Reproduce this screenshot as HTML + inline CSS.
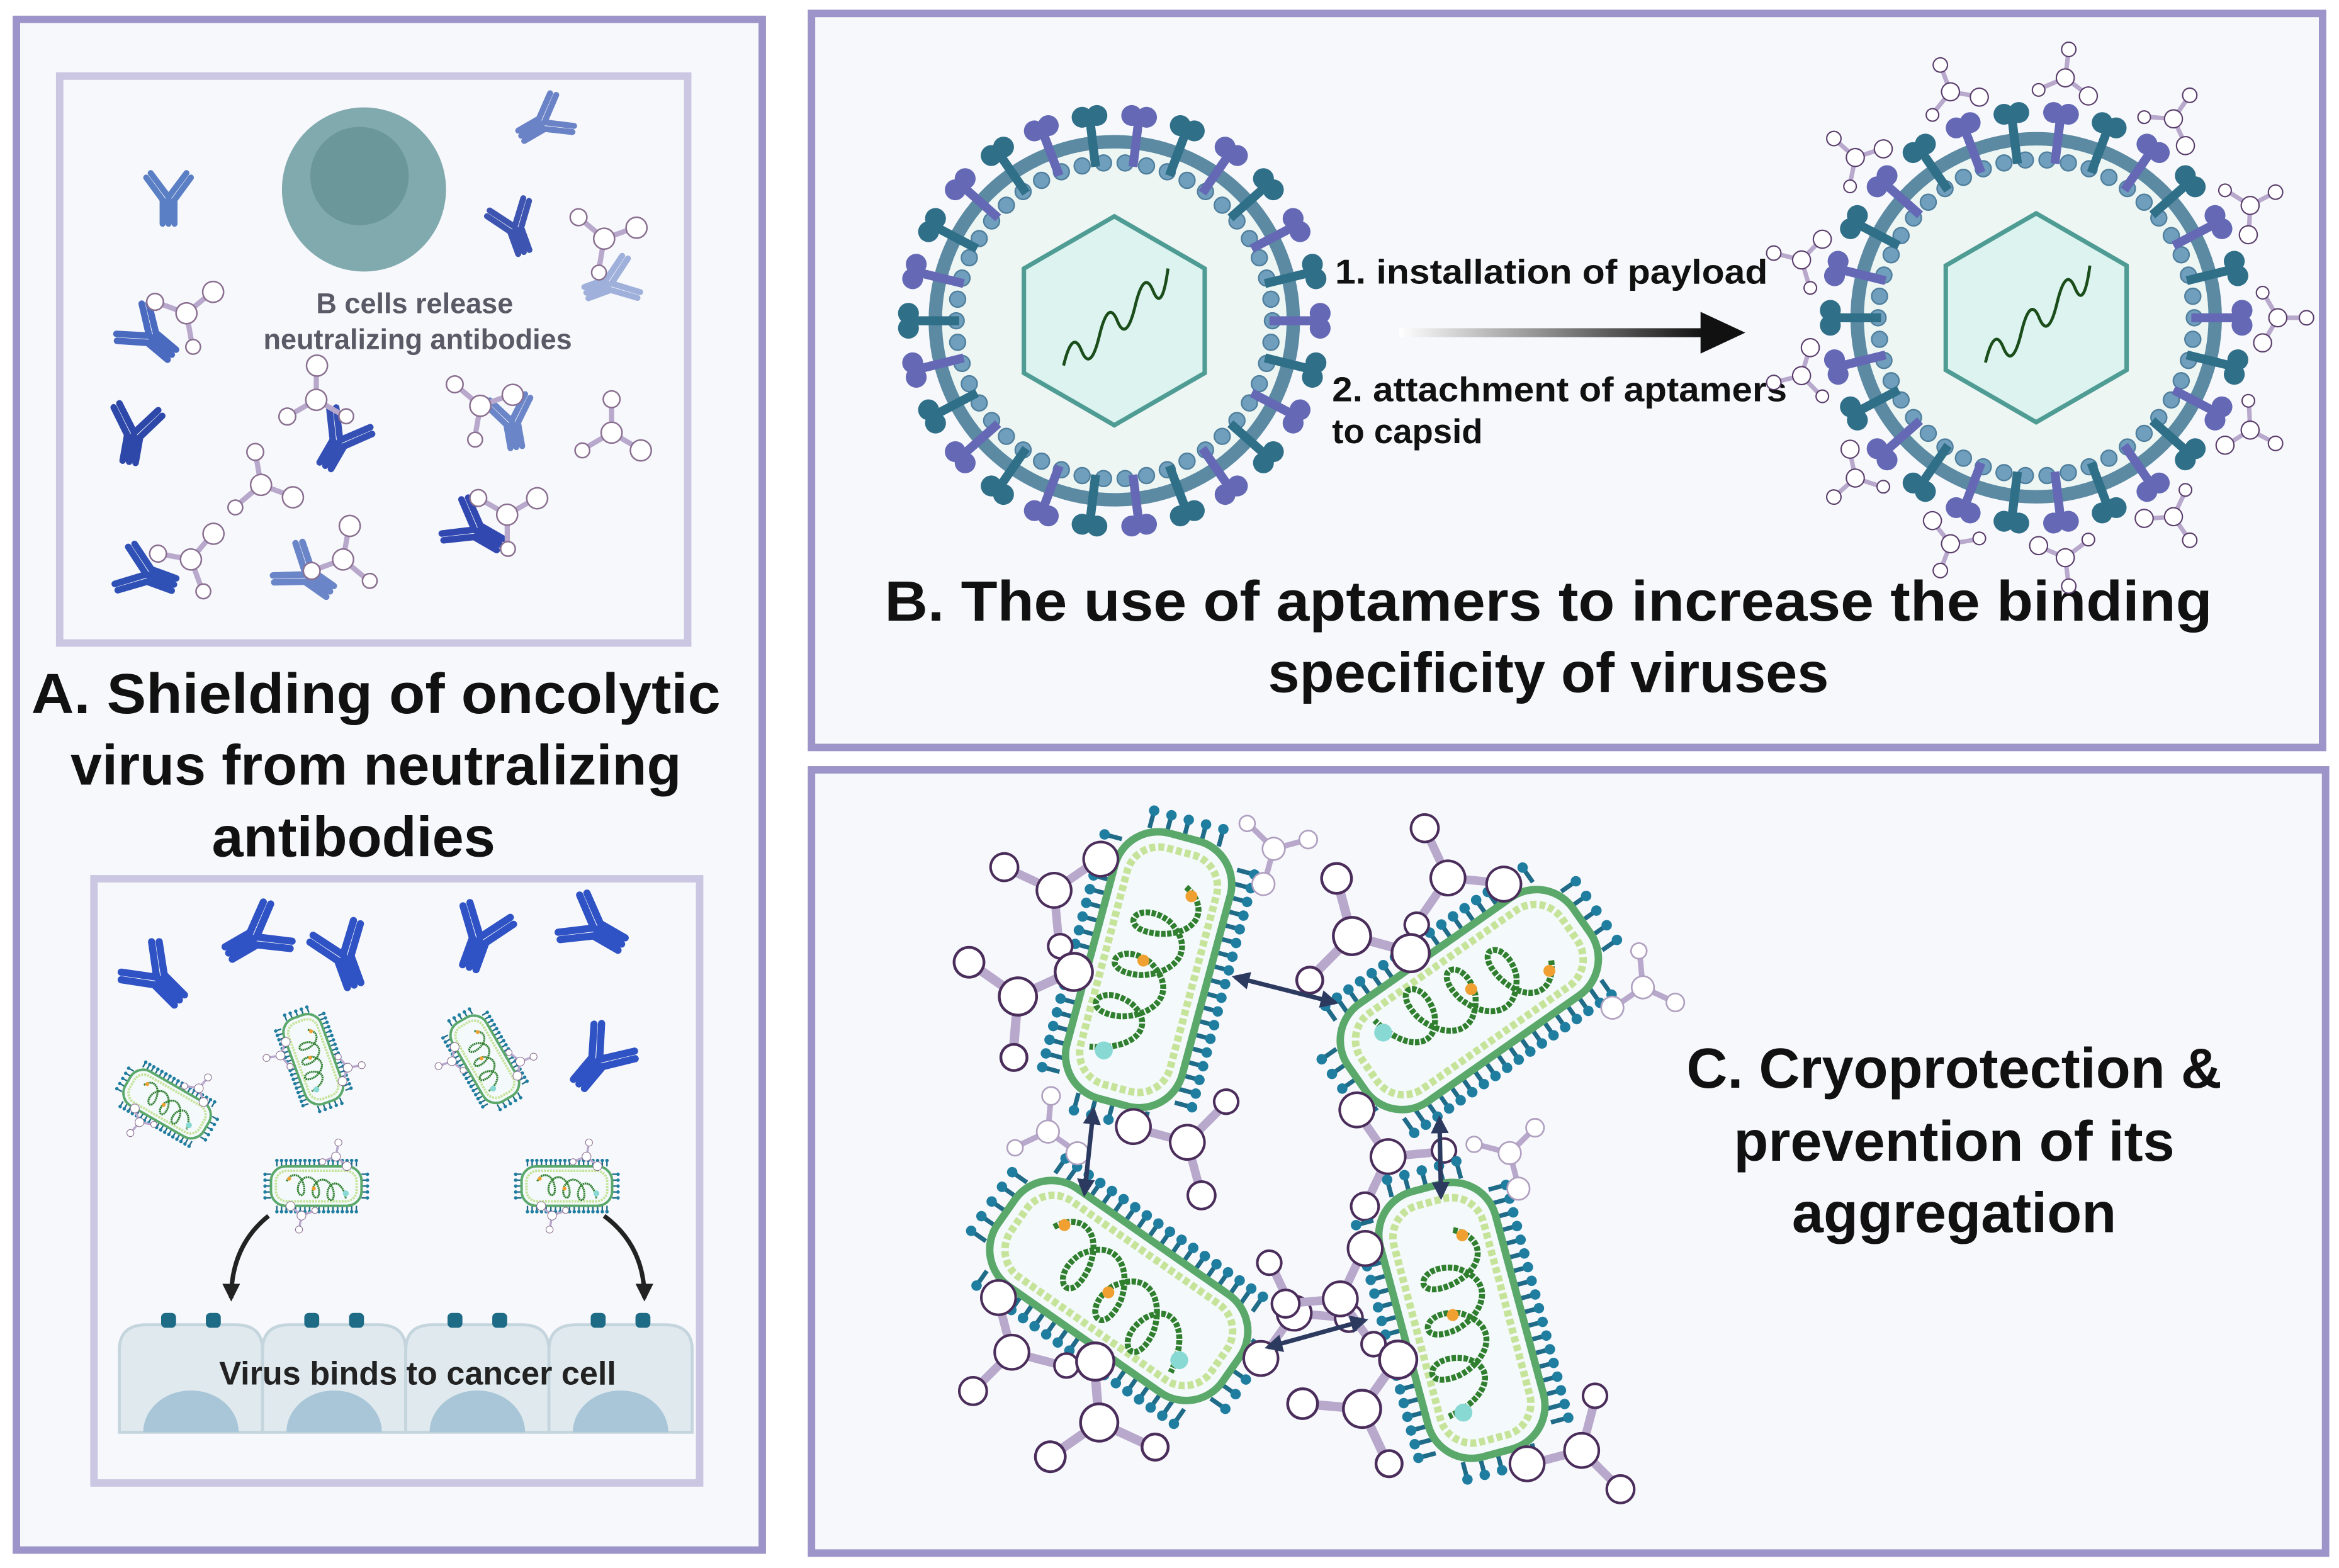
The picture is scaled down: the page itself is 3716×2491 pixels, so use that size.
<!DOCTYPE html>
<html><head><meta charset="utf-8"><style>
html,body{margin:0;padding:0;background:#fff}
svg{display:block}
text{font-family:"Liberation Sans",sans-serif}
</style></head><body>
<svg id="s" xmlns="http://www.w3.org/2000/svg" width="3716" height="2491" viewBox="0 0 1568 1051" preserveAspectRatio="none">
<rect width="1568" height="1051" fill="#ffffff"/>
<rect x="11" y="13" width="500" height="1026" fill="#f7f8fc" stroke="#9d95c9" stroke-width="5"/>
<rect x="544" y="9" width="1013" height="492" fill="#f7f8fc" stroke="#9d95c9" stroke-width="5"/>
<rect x="544" y="516" width="1015" height="525" fill="#f7f8fc" stroke="#9d95c9" stroke-width="5"/>
<rect x="40" y="51" width="421" height="380" fill="#f7f8fc" stroke="#cbc7e2" stroke-width="5"/>
<rect x="63" y="589" width="406" height="405" fill="#f7f8fc" stroke="#cbc7e2" stroke-width="5"/>
<circle cx="244" cy="127" r="55" fill="#80aaae"/>
<circle cx="241" cy="118" r="33" fill="#6b979b"/>
<text x="278" y="210" font-size="19" font-weight="bold" fill="#5a5a66" text-anchor="middle">B cells release</text>
<text x="280" y="234" font-size="19" font-weight="bold" fill="#5a5a66" text-anchor="middle">neutralizing antibodies</text>
<g id="cells"></g>
<text x="280" y="928" font-size="22" font-weight="bold" fill="#222" text-anchor="middle">Virus binds to cancer cell</text>
<g font-weight="bold" font-size="38" fill="#111" text-anchor="middle">
<text x="252" y="478" textLength="462" lengthAdjust="spacingAndGlyphs">A. Shielding of oncolytic</text>
<text x="252" y="526">virus from neutralizing</text>
<text x="237" y="574">antibodies</text>
<text x="1038" y="416" textLength="890" lengthAdjust="spacingAndGlyphs">B. The use of aptamers to increase the binding</text>
<text x="1038" y="464">specificity of viruses</text>
<text x="1310" y="729">C. Cryoprotection &amp;</text>
<text x="1310" y="778">prevention of its</text>
<text x="1310" y="826">aggregation</text>
</g>
<g font-weight="bold" font-size="23" fill="#111">
<text x="895" y="190" textLength="290" lengthAdjust="spacingAndGlyphs">1.  installation of payload</text>
<text x="893" y="269" textLength="305" lengthAdjust="spacingAndGlyphs">2. attachment of aptamers</text>
<text x="893" y="297">to capsid</text>
</g>
<defs><linearGradient id="ag" x1="0" x2="1"><stop offset="0" stop-color="#fff"/><stop offset="1" stop-color="#111"/></linearGradient>
<marker id="m" viewBox="0 0 10 10" refX="8" refY="5" markerWidth="4" markerHeight="4" orient="auto-start-reverse"><path d="M0,0L10,5L0,10z" fill="#2c3a60"/></marker>
<marker id="m2" viewBox="0 0 10 10" refX="8" refY="5" markerWidth="4" markerHeight="4" orient="auto"><path d="M0,0L10,5L0,10z" fill="#222"/></marker></defs>
<rect x="938" y="220" width="205" height="6" fill="url(#ag)"/>
<path d="M1140,209L1170,223L1140,237z" fill="#111"/>
<g id="dyn"></g>
</svg>
<script>
var NS="http://www.w3.org/2000/svg",D=document.getElementById("dyn");
function el(t,a,p){var e=document.createElementNS(NS,t);for(var k in a)e.setAttribute(k,a[k]);(p||D).appendChild(e);return e;}
var C=document.getElementById("cells");
for(var i=0;i<4;i++){var x=80+i*96;
el("path",{d:"M"+x+",960V905Q"+x+",888 "+(x+18)+",888H"+(x+78)+"Q"+(x+96)+",888 "+(x+96)+",905V960z",fill:"#dfe9ee",stroke:"#c5d5dd","stroke-width":2},C);
el("path",{d:"M"+(x+16)+",960A32,28 0 0 1 "+(x+80)+",960z",fill:"#a8c6d8"},C);
el("rect",{x:x+28,y:880,width:10,height:10,rx:3,fill:"#1e6b86"},C);el("rect",{x:x+58,y:880,width:10,height:10,rx:3,fill:"#1e6b86"},C);}
function ab(x,y,r,s,c){var g=el("g",{transform:"translate("+x+","+y+") rotate("+r+") scale("+s+")",stroke:c,"stroke-width":4,fill:"none","stroke-linecap":"round"});
el("path",{d:"M0,18V0L-12,-16M0,0L12,-16M-4,18V2L-15,-13M4,18V2L15,-13"},g);}
var abs=[[113,132,0,1,"#5b7fc4"],[365,82,60,1,"#6a83c6"],[345,152,-20,1,"#3d55b0"],[100,225,-50,1.1,"#4a6ac0"],[410,190,70,1,"#9fb1da"],[90,290,10,1.1,"#2d48a8"],[228,295,30,1.1,"#3550b5"],[343,282,-10,1,"#6b86c8"],[318,355,-60,1.1,"#3148b0"],[98,385,-70,1.1,"#2f50b5"],[205,385,-55,1.1,"#6b86c8"],
[105,655,-45,1.2,"#2f52c4"],[172,628,60,1.2,"#2f52c4"],[230,640,-20,1.2,"#2f52c4"],[322,628,20,1.2,"#2f52c4"],[398,622,-60,1.2,"#2f52c4"],[402,710,40,1.2,"#2f52c4"]];
abs.forEach(function(a){ab.apply(null,a)});
function apt(x,y,r,s,c,p){var g=el("g",{transform:"translate("+x+","+y+") rotate("+r+") scale("+s+")",stroke:c||"#5a3d6b","stroke-width":1.5,fill:"#fff"},p);
el("path",{d:"M0,0H-28M0,0L14,-24M0,0L14,24","stroke-width":5,stroke:"#b8a8cc"},g);
el("circle",{cx:0,cy:0,r:10},g);el("circle",{cx:-32,cy:0,r:8},g);el("circle",{cx:17,cy:-28,r:10},g);el("circle",{cx:17,cy:28,r:7},g);}
[[125,210,20,0.7],[212,268,-30,0.7],[322,272,40,0.7],[410,290,90,0.7],[175,325,80,0.7],[405,160,40,0.7],[128,375,10,0.7],[230,375,-20,0.7],[340,345,30,0.7]].forEach(function(a){apt(a[0],a[1],a[2],a[3],"#8a6f90")});
function virus(cx,cy,aptm){var g=el("g",{});
el("circle",{cx:cx,cy:cy,r:120,fill:"#eef6f4",stroke:"#5b8aa2","stroke-width":9},g);
for(var i=0;i<46;i++){var a=i/46*2*Math.PI;el("circle",{cx:cx+106*Math.cos(a),cy:cy+106*Math.sin(a),r:5.3,fill:"#6f9fbd",stroke:"#4f7f9c","stroke-width":1},g);}
var pts=[];for(var i=0;i<6;i++){var a=-Math.PI/2+i*Math.PI/3;pts.push((cx+70*Math.cos(a))+","+(cy+70*Math.sin(a)));}
el("polygon",{points:pts.join(" "),fill:"#dcf3ef",stroke:"#4f9c94","stroke-width":3},g);
el("path",{d:"M"+(cx-34)+","+(cy+30)+"q6,-25 12,-10t12,-10t12,-10t12,-10t12,-10t10,-15",fill:"none",stroke:"#1b4d1b","stroke-width":2},g);
for(var i=0;i<26;i++){var d=i/26*360,col=i%2?"#2f6f88":"#6569b5";
var sg=el("g",{transform:"translate("+cx+","+cy+") rotate("+d+")"},g);
el("rect",{x:104,y:-3,width:30,height:6,fill:col},sg);el("circle",{cx:138,cy:-5,r:7,fill:col},sg);el("circle",{cx:138,cy:5,r:7,fill:col},sg);
if(aptm&&i%2==0){apt(cx+162*Math.cos(d*Math.PI/180),cy+162*Math.sin(d*Math.PI/180),d+180,0.6,"#5a3d6b");}}}
virus(747,215,false);virus(1365,213,true);
function rod(cx,cy,r,s,withApt){var g=el("g",{transform:"translate("+cx+","+cy+") rotate("+r+") scale("+(s||1)+")"});
for(var i=0;i<18;i++){var y=-80+i*9.5;el("path",{d:"M-40,"+y+"h-10M40,"+y+"h10",stroke:"#1f6b88","stroke-width":3},g);el("circle",{cx:-52,cy:y,r:3.5,fill:"#1f7ea0"},g);el("circle",{cx:52,cy:y,r:3.5,fill:"#1f7ea0"},g);}
for(var i=0;i<5;i++){var x=-24+i*12;el("path",{d:"M"+x+",-92v-10M"+x+",92v10",stroke:"#1f6b88","stroke-width":3},g);el("circle",{cx:x,cy:-104,r:3.5,fill:"#1f7ea0"},g);el("circle",{cx:x,cy:104,r:3.5,fill:"#1f7ea0"},g);}
el("rect",{x:-40,y:-92,width:80,height:184,rx:30,fill:"#f4f9fb",stroke:"#5aa86a","stroke-width":5},g);
el("rect",{x:-31,y:-82,width:62,height:164,rx:22,fill:"none",stroke:"#c6e39a","stroke-width":5,"stroke-dasharray":"4 2"},g);
el("path",{d:"M10,-60c20,10,15,30,-10,35c-30,5,-20,-20,5,-10c25,15,10,35,-10,40c-30,5,-20,-20,5,-10c25,15,10,35,-10,40c-30,5,-20,-20,5,-10c20,10,10,30,-20,35",fill:"none",stroke:"#2f7f2f","stroke-width":4,"stroke-dasharray":"3 1"},g);
el("circle",{cx:15,cy:-55,r:4,fill:"#f0a030"},g);el("circle",{cx:-5,cy:-5,r:4,fill:"#f0a030"},g);el("circle",{cx:-15,cy:60,r:6,fill:"#88d8d4"},g);
if(withApt){apt(-75,-35,10,1.15,"#4a2d5a",g);apt(-80,40,20,1.25,"#4a2d5a",g);apt(55,105,-120,1.15,"#4a2d5a",g);apt(60,-100,150,0.75,"#b0a0c0",g);}
else{apt(-60,-30,10,0.9,"#8a6f90",g);apt(60,40,190,0.9,"#8a6f90",g);}}
rod(770,650,15,1,true);rod(985,670,55,1,true);rod(750,865,-55,1,true);rod(980,885,-15,1,true);
rod(112,740,-60,0.33);rod(210,710,-20,0.33);rod(325,710,-30,0.33);rod(212,795,-90,0.33);rod(380,795,-90,0.33);
[[828,655,895,672],[733,744,727,800],[965,750,966,802],[850,903,915,885]].forEach(function(a){el("line",{x1:a[0],y1:a[1],x2:a[2],y2:a[3],stroke:"#2c3a60","stroke-width":3,"marker-start":"url(#m)","marker-end":"url(#m)"})});
el("path",{d:"M180,815Q155,835 155,870",fill:"none",stroke:"#222","stroke-width":3,"marker-end":"url(#m2)"});
el("path",{d:"M405,815Q432,835 432,870",fill:"none",stroke:"#222","stroke-width":3,"marker-end":"url(#m2)"});
</script>
</body></html>
